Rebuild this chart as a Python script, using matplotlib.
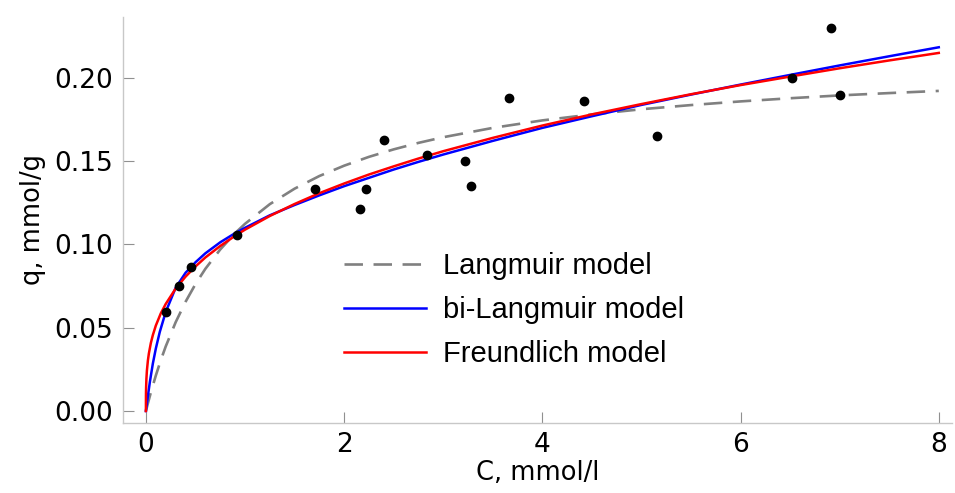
import numpy as np
import matplotlib
matplotlib.use("Agg")
import matplotlib.pyplot as plt

c_data = np.array([0.20, 0.33, 0.45, 0.92, 1.71, 2.16, 2.22, 2.40, 2.84, 3.22,
                   3.28, 3.66, 4.42, 5.16, 6.52, 6.91, 7.00])
q_data = np.array([0.0595, 0.075, 0.0865, 0.1057, 0.1333, 0.1213, 0.1333, 0.1628,
                   0.1538, 0.150, 0.135, 0.188, 0.1862, 0.165, 0.200, 0.230, 0.190])

# model curves, sampled off the figure
c_lang = [0, 0.02, 0.05, 0.1, 0.15, 0.2, 0.3, 0.4, 0.5, 0.6, 0.75, 0.9, 1, 1.25, 1.5,
          1.75, 2, 2.25, 2.5, 2.75, 3, 3.5, 4, 4.5, 5, 5.5, 6, 6.5, 7, 7.5, 8]
q_lang = [0, 0.0046, 0.0112, 0.0213, 0.0305, 0.0388, 0.0533, 0.0656, 0.0762, 0.0854,
          0.0970, 0.1068, 0.1124, 0.1242, 0.1335, 0.1411, 0.1473, 0.1526, 0.1571,
          0.1610, 0.1644, 0.1700, 0.1745, 0.1781, 0.1812, 0.1837, 0.1859, 0.1878,
          0.1895, 0.1909, 0.1922]

c_bil = [0, 0.01, 0.02, 0.04, 0.07, 0.1, 0.14, 0.2, 0.3, 0.4, 0.5, 0.6, 0.75, 0.9, 1,
         1.25, 1.5, 1.75, 2, 2.25, 2.5, 2.75, 3, 3.5, 4, 4.5, 5, 5.5, 6, 6.5, 7, 7.5, 8]
q_bil = [0, 0.0045, 0.009, 0.0175, 0.0285, 0.0375, 0.0475, 0.0595, 0.0740, 0.0830,
         0.0893, 0.0947, 0.1013, 0.1068, 0.1100, 0.1175, 0.1237, 0.1295, 0.1350,
         0.1400, 0.1450, 0.1496, 0.1540, 0.1622, 0.1700, 0.1770, 0.1838, 0.1900,
         0.1960, 0.2018, 0.2075, 0.2130, 0.2184]

c_fr = [0, 0.0005, 0.001, 0.002, 0.005, 0.01, 0.02, 0.03, 0.05, 0.07, 0.1, 0.15, 0.2,
        0.3, 0.4, 0.5, 0.6, 0.75, 0.9, 1, 1.25, 1.5, 1.75, 2, 2.25, 2.5, 2.75, 3, 3.5,
        4, 4.5, 5, 5.5, 6, 6.5, 7, 7.5, 8]
q_fr = [0, 0.0091, 0.0114, 0.0141, 0.0193, 0.0242, 0.0303, 0.0346, 0.0409, 0.0456,
        0.0513, 0.0586, 0.0643, 0.0735, 0.0807, 0.0868, 0.0922, 0.0991, 0.1052,
        0.1089, 0.1171, 0.1243, 0.1308, 0.1366, 0.1420, 0.1469, 0.1516, 0.1560,
        0.1640, 0.1714, 0.1781, 0.1843, 0.1902, 0.1957, 0.2008, 0.2058, 0.2105, 0.2150]

fig = plt.figure(figsize=(9.55, 4.93), dpi=100)
ax = fig.add_axes([0.1285, 0.1426, 0.868, 0.823])

ax.plot(c_lang, q_lang, "--", color="#808080", lw=1.9, dashes=(7, 4),
        label="Langmuir model")
ax.plot(c_bil, q_bil, color="#0000ff", lw=1.8, label="bi-Langmuir model")
ax.plot(c_fr, q_fr, color="#ff0000", lw=1.8, label="Freundlich model")
ax.scatter(c_data, q_data, s=36, color="black", zorder=5)

ax.set_xlim(-0.234, 8.13)
ax.set_ylim(-0.007, 0.2366)
ax.set_xticks([0, 2, 4, 6, 8])
ax.set_yticks([0.0, 0.05, 0.10, 0.15, 0.20])
ax.set_yticklabels(["0.00", "0.05", "0.10", "0.15", "0.20"])

for s in ["top", "right"]:
    ax.spines[s].set_visible(False)
for s in ["left", "bottom"]:
    ax.spines[s].set_color("#c8c8c8")
    ax.spines[s].set_linewidth(1.0)
ax.tick_params(direction="in", length=8, color="#909090", labelsize=19, pad=7)

ax.set_xlabel("C, mmol/l", fontsize=18.5, labelpad=1)
ax.set_ylabel("q, mmol/g", fontsize=18.5, labelpad=6)

ax.legend(loc="center left", bbox_to_anchor=(0.267, 0.278), frameon=False,
          prop={"family": "Liberation Sans", "size": 21}, borderpad=0,
          borderaxespad=0, handlelength=2.8, handletextpad=0.6, labelspacing=0.55)

fig.savefig("out.png", dpi=100)
